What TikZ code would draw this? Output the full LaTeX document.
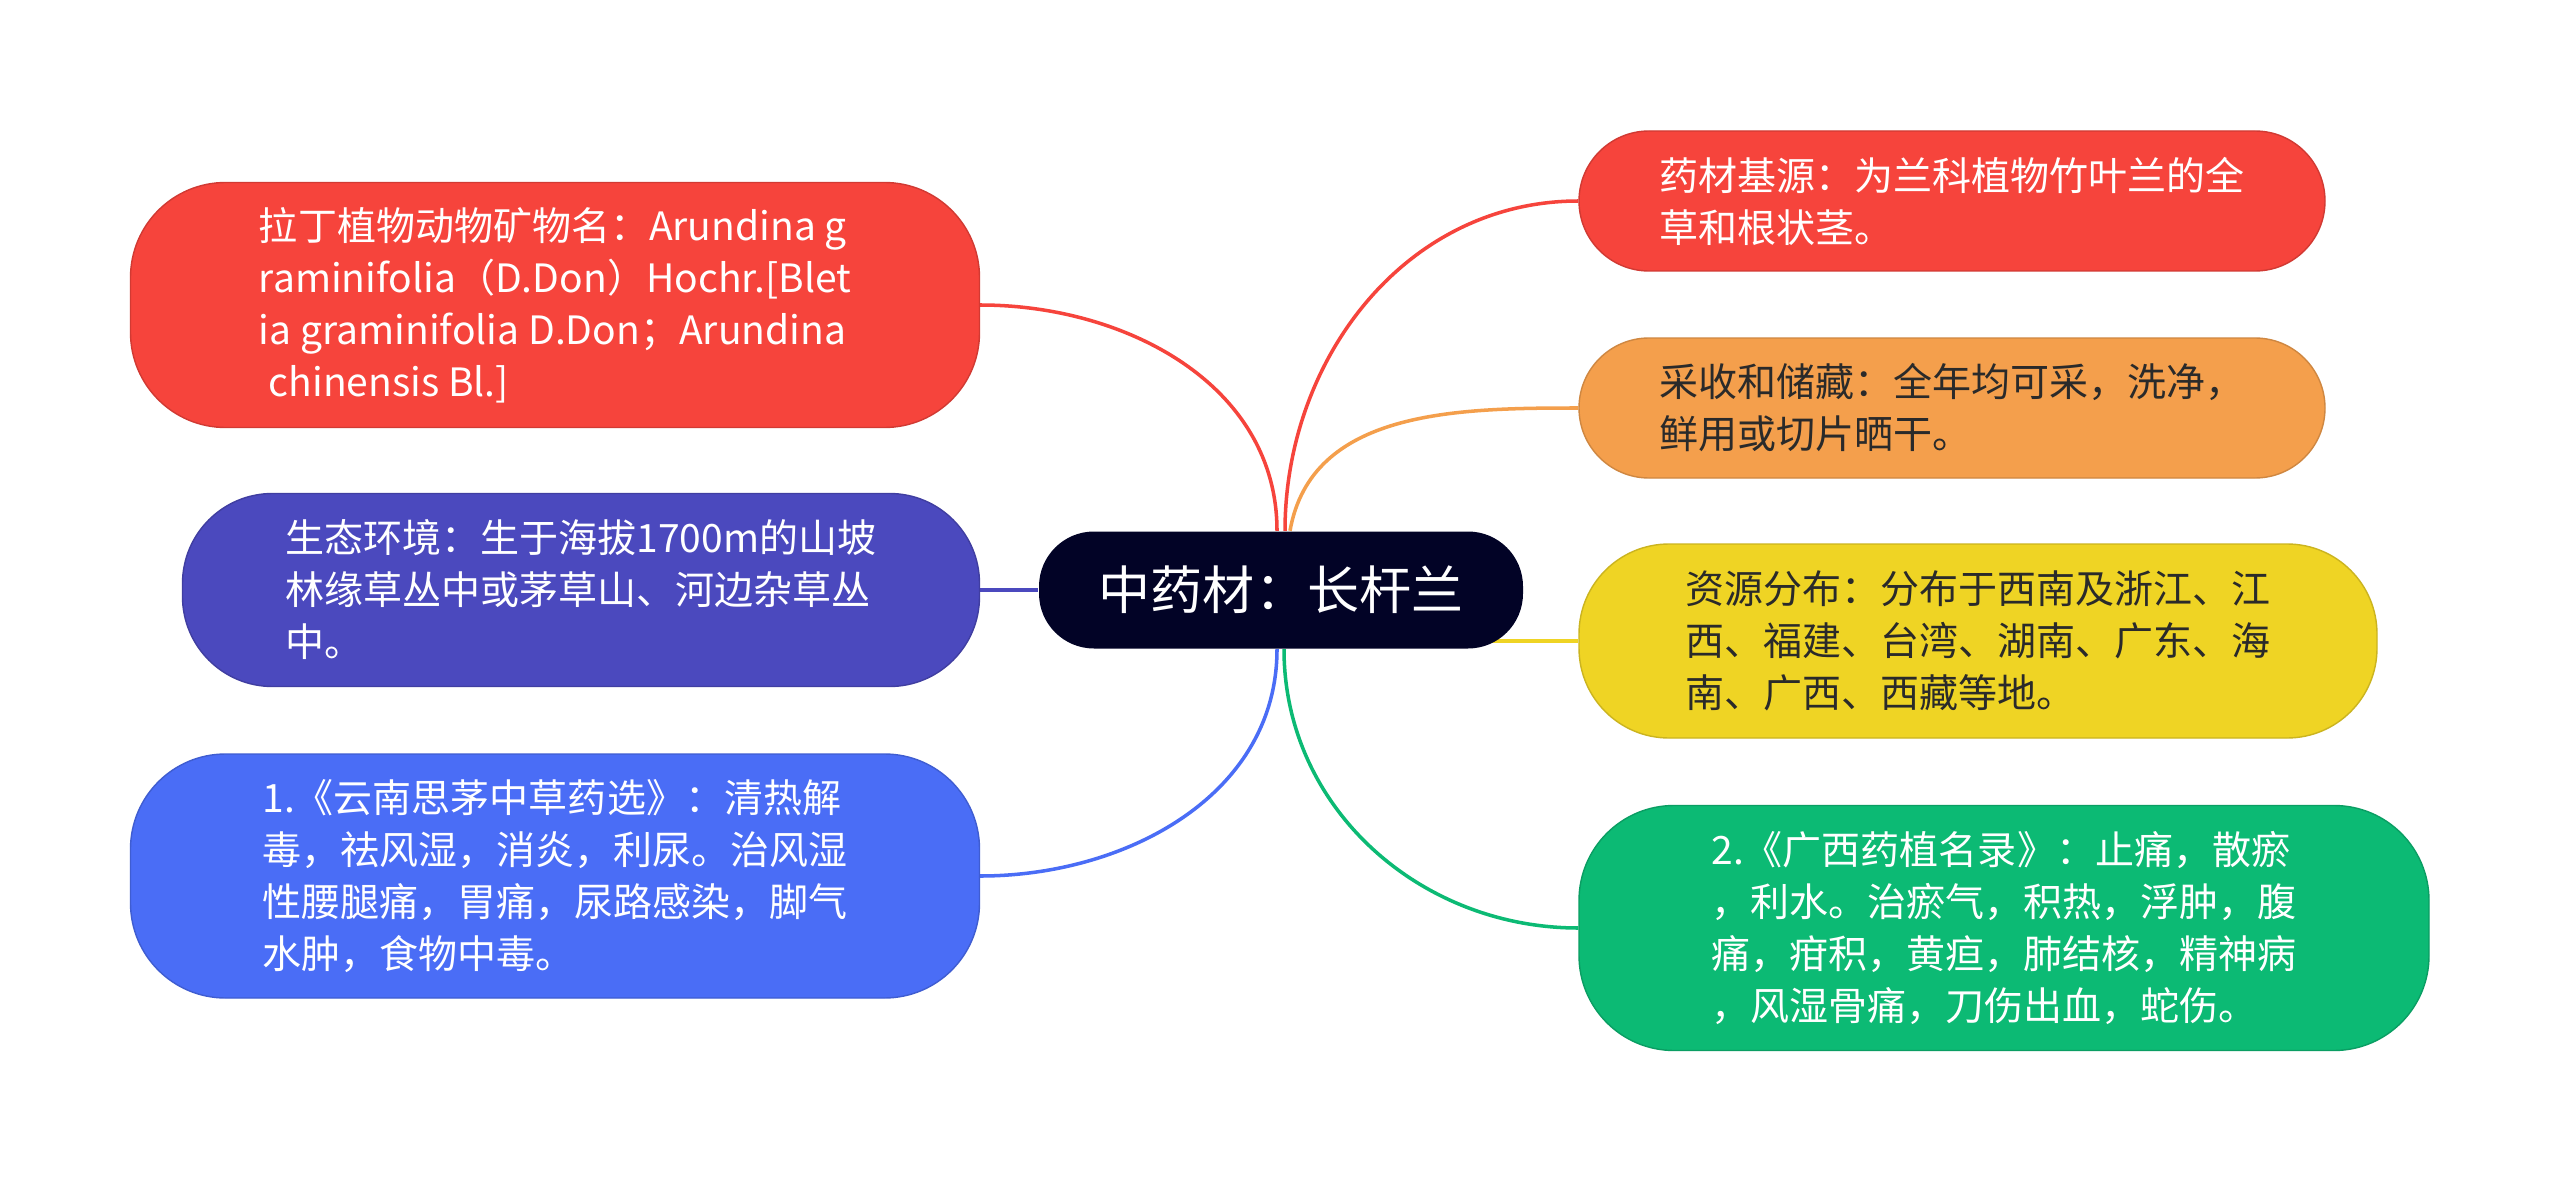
\documentclass[tikz,border=0pt]{standalone}
\usepackage{fontspec}
\usepackage{tikz}
\usetikzlibrary{backgrounds}
\newfontfamily\cjk{Noto Sans CJK SC}
\definecolor{rootnavy}{HTML}{020326}
\definecolor{leafred}{HTML}{F6443C}
\definecolor{leafindigo}{HTML}{4B49BE}
\definecolor{leafblue}{HTML}{4A6DF6}
\definecolor{leaforange}{HTML}{F49F4C}
\definecolor{leafyellow}{HTML}{EFD424}
\definecolor{leafgreen}{HTML}{0CBA74}
\definecolor{inkdark}{HTML}{2A2A2A}

\begin{document}
\begin{tikzpicture}[font=\cjk\fontsize{11.1pt}{14.8pt}\selectfont,
  root/.style={fill=rootnavy,text=white,rounded corners=0.55cm,inner sep=0pt,
               minimum width=4.84cm,minimum height=1.17cm,
               font=\cjk\fontsize{14.8pt}{18pt}\selectfont},
  leaf/.style={fill=#1,draw=#1!85!black,line width=0.4pt,text=white,
               inner sep=0pt,align=left},
  link/.style={draw=#1,line width=1pt}]

\useasboundingbox (0,0) rectangle (25.6,-11.81);

\node[root] (root) at (12.81,-5.90) {中药材：长杆兰};

\node[leaf=leafred,minimum width=8.49cm,minimum height=2.45cm,rounded corners=0.95cm]
  (latin) at (5.55,-3.05) {拉丁植物动物矿物名：Arundina g\\raminifolia（D.Don）Hochr.[Blet\\
  ia graminifolia D.Don；Arundina\\\hspace*{0.25em}chinensis Bl.]};
\node[leaf=leafindigo,minimum width=7.97cm,minimum height=1.93cm,rounded corners=0.9cm]
  (habitat) at (5.81,-5.90) {生态环境：生于海拔1700m的山坡\\林缘草丛中或茅草山、河边杂草丛\\中。};
\node[leaf=leafblue,minimum width=8.49cm,minimum height=2.44cm,rounded corners=0.95cm]
  (yunnan) at (5.55,-8.76) {1.《云南思茅中草药选》：清热解\\毒，祛风湿，消炎，利尿。治风湿\\
  性腰腿痛，胃痛，尿路感染，脚气\\水肿，食物中毒。};

\node[leaf=leafred,minimum width=7.46cm,minimum height=1.40cm,rounded corners=0.7cm]
  (origin) at (19.52,-2.01) {药材基源：为兰科植物竹叶兰的全\\草和根状茎。};
\node[leaf=leaforange,text=inkdark,minimum width=7.46cm,minimum height=1.40cm,rounded corners=0.7cm]
  (harvest) at (19.52,-4.08) {采收和储藏：全年均可采，洗净，\\鲜用或切片晒干。};
\node[leaf=leafyellow,text=inkdark,minimum width=7.98cm,minimum height=1.94cm,rounded corners=0.9cm]
  (range) at (19.78,-6.41) {资源分布：分布于西南及浙江、江\\西、福建、台湾、湖南、广东、海\\南、广西、西藏等地。};
\node[leaf=leafgreen,minimum width=8.50cm,minimum height=2.45cm,rounded corners=0.95cm]
  (guangxi) at (20.04,-9.28) {2.《广西药植名录》：止痛，散瘀\\，利水。治瘀气，积热，浮肿，腹\\
  痛，疳积，黄疸，肺结核，精神病\\，风湿骨痛，刀伤出血，蛇伤。};

% branches sit under the boxes, so they may start inside the root
\begin{scope}[on background layer]
\fill[white] (0,0) rectangle (25.6,-11.81);
\draw[link=leafred] ([xshift=-0.04cm]root.north) to[out=90,in=0] (latin.east);
\draw[link=leafindigo] (habitat.east) -- (root.west);
\draw[link=leafblue] ([xshift=-0.04cm]root.south) to[out=-90,in=0] (yunnan.east);
\draw[link=leafred] ([xshift=0.04cm]root.north) to[out=90,in=180] (origin.west);
\draw[link=leaforange] ([xshift=0.09cm]root.north) to[out=80,in=180] (harvest.west);
\draw[link=leafyellow] (root.center |- range.west) -- (range.west);
\draw[link=leafgreen] ([xshift=0.03cm]root.south) to[out=-90,in=180] (guangxi.west);
\end{scope}
\end{tikzpicture}
\end{document}
